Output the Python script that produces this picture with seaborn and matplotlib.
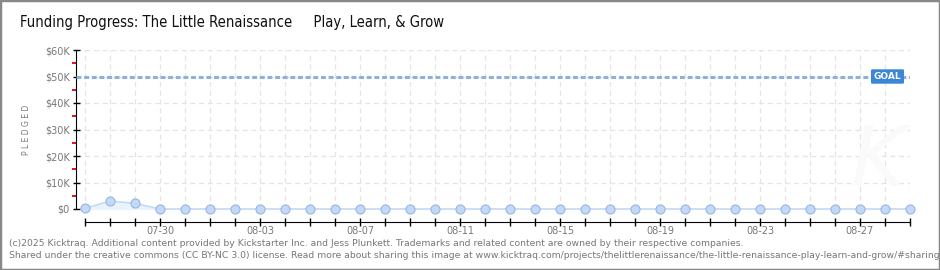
import matplotlib
matplotlib.use('Agg')
import matplotlib.pyplot as plt
import seaborn as sns
import pandas as pd
from matplotlib.ticker import FixedLocator, FuncFormatter
from matplotlib.patches import Rectangle

# Veri
dates = ['07-27', '07-28', '07-29', '07-30', '07-31', '08-01', '08-02', '08-03',
         '08-04', '08-05', '08-06', '08-07', '08-08', '08-09', '08-10', '08-11',
         '08-12', '08-13', '08-14', '08-15', '08-16', '08-17', '08-18', '08-19',
         '08-20', '08-21', '08-22', '08-23', '08-24', '08-25', '08-26', '08-27',
         '08-28', '08-29']
pledged = [300, 3000, 2150, 0, 0, 0, 0, 0,
           0, 0, 0, 0, 0, 0, 0, 0,
           0, 0, 0, 0, 0, 0, 0, 0,
           0, 0, 0, 0, 0, 0, 0, 0,
           0, 0]
goal = 50000
label_dates = ['07-30', '08-03', '08-07', '08-11', '08-15', '08-19', '08-23', '08-27']

df = pd.DataFrame({'day': range(len(dates)), 'date': dates, 'pledged': pledged})

sns.set_style('white')
plt.rcParams['font.family'] = ['DejaVu Sans']

PT = 72 / 100  # 1 px in points

fig = plt.figure(figsize=(9.4, 2.7), dpi=100)
ax = fig.add_axes([76 / 940, 1 - 209 / 270, (910 - 76) / 940, (209 - 50) / 270])

# alan dolgusu + cizgi
ax.fill_between(df['day'], df['pledged'], 0, color='#eaf2fc', zorder=1)
sns.lineplot(data=df, x='day', y='pledged', ax=ax, color='#c4dbf4', linewidth=1.2,
             marker='o', markersize=6.5, markerfacecolor='#c2daf7',
             markeredgecolor='#98b6de', markeredgewidth=0.8, clip_on=False, zorder=4)

# hedef cizgisi
ax.axhline(goal, color='#8fb0da', linewidth=2.2, linestyle=(0, (1.6, 0.9)), zorder=3)
ax.text(32.1, goal, 'GOAL', color='white', fontsize=6.5, fontweight='bold',
        ha='center', va='center', zorder=6,
        bbox=dict(boxstyle='round,pad=0.3,rounding_size=0.15', fc='#3b86d6', ec='none'))

ax.set_xlim(-0.36, len(dates) - 1)
ax.set_ylim(0, 60000)

# grid
ax.set_xticks(df['day'])
ax.set_yticks(range(0, 60001, 10000))
ax.grid(True, color='#e4e4e4', linestyle=(0, (4, 3)), linewidth=0.9)
ax.set_axisbelow(True)

ax.set_xticklabels([d if d in label_dates else '' for d in dates])
ax.yaxis.set_major_formatter(FuncFormatter(lambda v, p: '$0' if v == 0 else '$%dK' % (v / 1000)))
ax.yaxis.set_minor_locator(FixedLocator(range(5000, 60000, 10000)))
ax.tick_params(axis='y', which='major', direction='inout', length=7 * PT, width=1,
               color='black', labelsize=7, labelcolor='#777777', pad=2, left=True)
ax.tick_params(axis='y', which='minor', direction='out', length=4 * PT, width=1.3,
               color='#e00000', left=True)
ax.tick_params(axis='x', which='major', direction='inout', length=8 * PT, width=1,
               color='black', labelsize=7, labelcolor='#777777', pad=0, bottom=True)

for s in ['top', 'right']:
    ax.spines[s].set_visible(False)
ax.spines['left'].set_color('black')
ax.spines['bottom'].set_color('black')
ax.spines['bottom'].set_position(('outward', 13 * PT))
ax.spines['bottom'].set_bounds(0, len(dates) - 1)

ax.set_xlabel('')
ax.set_ylabel('P L E D G E D', fontsize=5.5, color='#777777', labelpad=10)

# watermark
fig.text(878 / 940, 1 - 162 / 270, 'K', fontsize=60, fontstyle='italic', fontweight='light',
         color='#fafafa', ha='center', va='center', zorder=0)

fig.text(20 / 940, 1 - 23 / 270,
         'Funding Progress: The Little Renaissance     Play, Learn, & Grow',
         fontsize=10.6, color='#111111', ha='left', va='center', fontstretch='condensed')

fig.text(9 / 940, 1 - 243 / 270,
         '(c)2025 Kicktraq. Additional content provided by Kickstarter Inc. and Jess Plunkett. '
         'Trademarks and related content are owned by their respective companies.',
         fontsize=6.7, color='#777777', ha='left', va='center')
fig.text(9 / 940, 1 - 255 / 270,
         'Shared under the creative commons (CC BY-NC 3.0) license. Read more about sharing this image at '
         'www.kicktraq.com/projects/thelittlerenaissance/the-little-renaissance-play-learn-and-grow/#sharing',
         fontsize=6.7, color='#777777', ha='left', va='center')

fig.patches.append(Rectangle((0, 0), 1, 1, transform=fig.transFigure, fill=False,
                             edgecolor='#888888', linewidth=2.5, zorder=10))

fig.savefig('out.png', dpi=100)
